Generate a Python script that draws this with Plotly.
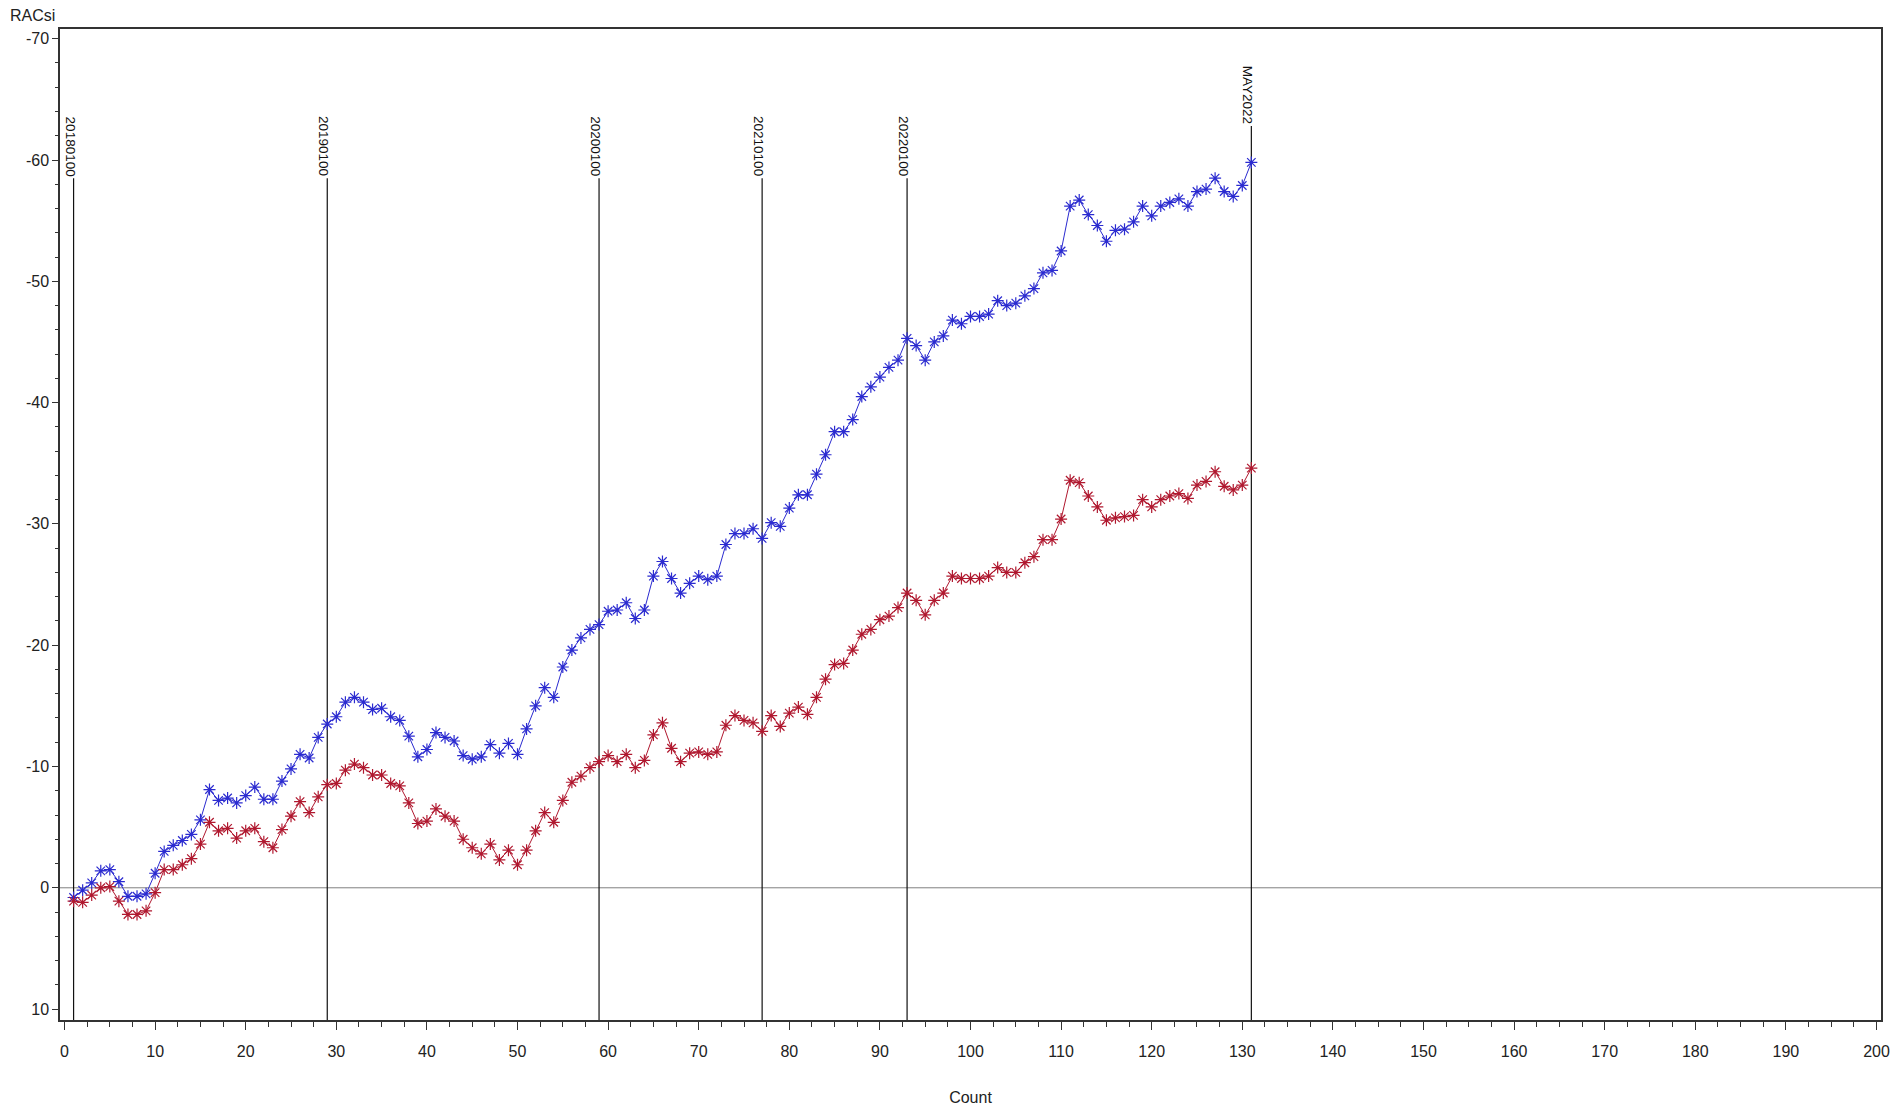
import plotly.graph_objects as go

count = list(range(1, 132))

blue_values = [
    0.8, 0.2, -0.4, -1.4, -1.5, -0.5, 0.7, 0.7, 0.5, -1.2,
    -3.0, -3.5, -3.9, -4.4, -5.6, -8.1, -7.2, -7.4, -7.0, -7.6,
    -8.3, -7.3, -7.3, -8.8, -9.8, -11.0, -10.7, -12.4, -13.5, -14.1,
    -15.3, -15.7, -15.3, -14.7, -14.8, -14.1, -13.8, -12.5, -10.8, -11.4,
    -12.8, -12.4, -12.1, -10.9, -10.6, -10.8, -11.8, -11.1, -11.9, -11.0,
    -13.1, -15.0, -16.5, -15.7, -18.2, -19.6, -20.6, -21.3, -21.7, -22.8,
    -22.9, -23.5, -22.2, -22.9, -25.7, -26.9, -25.5, -24.3, -25.1, -25.7,
    -25.4, -25.7, -28.3, -29.2, -29.2, -29.6, -28.8, -30.1, -29.8, -31.3,
    -32.4, -32.4, -34.1, -35.7, -37.6, -37.6, -38.6, -40.5, -41.3, -42.1,
    -42.9, -43.5, -45.3, -44.7, -43.5, -45.0, -45.5, -46.8, -46.5, -47.1,
    -47.1, -47.3, -48.4, -48.0, -48.2, -48.8, -49.4, -50.7, -50.9, -52.5,
    -56.2, -56.7, -55.5, -54.6, -53.3, -54.2, -54.3, -54.9, -56.2, -55.4,
    -56.2, -56.5, -56.8, -56.2, -57.4, -57.6, -58.5, -57.4, -57.0, -57.9,
    -59.8,
]

red_values = [
    1.1, 1.2, 0.6, 0.0, -0.1, 1.1, 2.2, 2.2, 1.9, 0.4,
    -1.5, -1.5, -1.9, -2.4, -3.6, -5.4, -4.7, -4.9, -4.1, -4.7,
    -4.9, -3.8, -3.3, -4.8, -5.9, -7.1, -6.2, -7.5, -8.5, -8.6,
    -9.7, -10.2, -9.9, -9.3, -9.3, -8.6, -8.4, -7.0, -5.3, -5.5,
    -6.5, -5.9, -5.5, -4.0, -3.3, -2.8, -3.6, -2.3, -3.1, -1.9,
    -3.1, -4.7, -6.2, -5.4, -7.2, -8.7, -9.2, -9.9, -10.4, -10.9,
    -10.4, -11.0, -9.9, -10.5, -12.6, -13.6, -11.5, -10.4, -11.1, -11.2,
    -11.0, -11.2, -13.4, -14.2, -13.8, -13.6, -12.9, -14.2, -13.3, -14.4,
    -14.9, -14.3, -15.7, -17.2, -18.4, -18.5, -19.6, -20.9, -21.3, -22.1,
    -22.4, -23.1, -24.3, -23.7, -22.5, -23.7, -24.3, -25.7, -25.5, -25.5,
    -25.5, -25.7, -26.4, -26.0, -26.0, -26.8, -27.3, -28.7, -28.7, -30.4,
    -33.6, -33.4, -32.3, -31.4, -30.3, -30.5, -30.6, -30.7, -32.0, -31.4,
    -32.0, -32.3, -32.5, -32.1, -33.2, -33.5, -34.3, -33.1, -32.8, -33.2,
    -34.6,
]

event_x = [1, 29, 59, 77, 93, 131]
event_labels = ["20180100", "20190100", "20200100", "20210100", "20220100", "MAY2022"]
event_tops = [-58.5, -58.5, -58.5, -58.5, -58.5, -62.8]

y_ticks = [-70, -60, -50, -40, -30, -20, -10, 0, 10]
y_tick_labels = ["-70", "-60", "-50", "-40", "-30", "-20", "-10", "0", "10"]
x_ticks = list(range(0, 201, 10))

X_RANGE = [-0.5, 200.5]
Y_RANGE = [10.9, -70.8]

BLUE = "#2b2bd0"
RED = "#b0182f"
FONT = "Liberation Sans, Arial, sans-serif"

fig = go.Figure()

fig.add_trace(go.Scatter(
    x=count, y=blue_values, mode="lines+markers",
    line=dict(color=BLUE, width=1),
    marker=dict(symbol="asterisk-open", size=10, color=BLUE,
                line=dict(color=BLUE, width=1.2)),
    showlegend=False, name="blue",
))
fig.add_trace(go.Scatter(
    x=count, y=red_values, mode="lines+markers",
    line=dict(color=RED, width=1),
    marker=dict(symbol="asterisk-open", size=10, color=RED,
                line=dict(color=RED, width=1.2)),
    showlegend=False, name="red",
))

# zero reference line
fig.add_shape(type="line", xref="x", yref="y", x0=X_RANGE[0], x1=X_RANGE[1], y0=0, y1=0,
              line=dict(color="#808080", width=1), layer="below")

# event lines and rotated labels
for ex, lab, top in zip(event_x, event_labels, event_tops):
    fig.add_shape(type="line", xref="x", yref="y", x0=ex, x1=ex, y0=Y_RANGE[0], y1=top,
                  line=dict(color="#111111", width=1.2), layer="below")
    fig.add_annotation(x=ex, y=top, xref="x", yref="y", text=lab, showarrow=False,
                       textangle=90, xanchor="center", yanchor="bottom", xshift=-3,
                       font=dict(family=FONT, size=13.5, color="#111111"))

# y-axis title at top-left
fig.add_annotation(xref="paper", yref="paper", x=-0.0286, y=1.014, text="RACsi",
                   showarrow=False, xanchor="left", yanchor="middle",
                   font=dict(family=FONT, size=16, color="#222222"))

fig.update_layout(
    width=1893, height=1109,
    margin=dict(l=60, r=12, t=29, b=89, autoexpand=False),
    paper_bgcolor="white", plot_bgcolor="white",
    font=dict(family=FONT, size=16, color="#222222"),
    xaxis=dict(
        range=X_RANGE, tickvals=x_ticks, ticks="outside", ticklen=8, tickwidth=1.2,
        tickcolor="#333333", showgrid=False, zeroline=False, showline=True,
        linecolor="#333333", linewidth=1.5, mirror=True, automargin=False,
        ticklabelstandoff=8,
        minor=dict(dtick=2.5, tick0=0, ticks="outside", ticklen=5, tickcolor="#333333", showgrid=False),
        title=dict(text="Count", font=dict(family=FONT, size=16), standoff=33),
        tickfont=dict(family=FONT, size=16),
    ),
    yaxis=dict(
        range=Y_RANGE, tickvals=y_ticks, ticktext=y_tick_labels, ticks="outside", ticklen=6,
        tickwidth=1.2, tickcolor="#333333", showgrid=False, zeroline=False, showline=True,
        linecolor="#333333", linewidth=1.5, mirror=True, automargin=False,
        minor=dict(dtick=2, tick0=0, ticks="outside", ticklen=3, tickcolor="#333333", showgrid=False),
        tickfont=dict(family=FONT, size=16),
    ),
)

fig.write_html(
    "out.html",
    config={"displayModeBar": False},
    post_script="document.body.style.margin='0px';document.body.style.overflow='hidden';",
)
